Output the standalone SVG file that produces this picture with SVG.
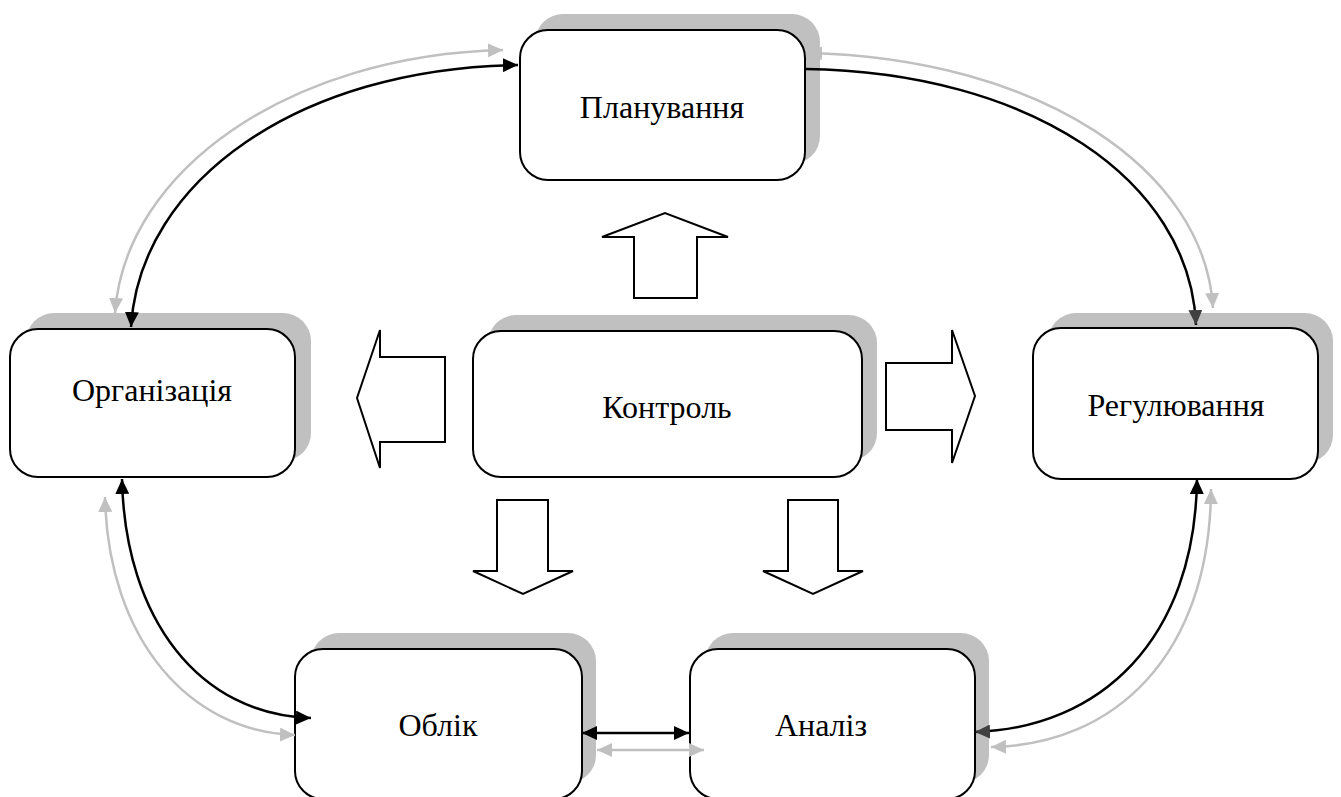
<svg xmlns="http://www.w3.org/2000/svg" width="1341" height="797" viewBox="0 0 1341 797">
  <style>
    .shadow { fill: #c0c0c0; stroke: none; }
    .box { fill: #ffffff; stroke: #000000; stroke-width: 2; }
    .label { font-family: "Liberation Serif", "Times New Roman", serif; font-size: 32px; fill: #000000; text-anchor: middle; }
    .block { fill: #ffffff; stroke: #000000; stroke-width: 2; stroke-linejoin: miter; }
    .link { fill: none; stroke: #000000; stroke-width: 2.5; }
    .link-gray { fill: none; stroke: #c0c0c0; stroke-width: 2.5; }
  </style>
  <defs>
    <marker id="headBlack" markerUnits="userSpaceOnUse" markerWidth="16" markerHeight="14" refX="15" refY="7" orient="auto-start-reverse">
      <path d="M0,0 L15,7 L0,14 z" fill="#000000"/>
    </marker>
    <marker id="headDark" markerUnits="userSpaceOnUse" markerWidth="16" markerHeight="14" refX="15" refY="7" orient="auto-start-reverse">
      <path d="M0,0 L15,7 L0,14 z" fill="#404040"/>
    </marker>
    <marker id="headGray" markerUnits="userSpaceOnUse" markerWidth="16" markerHeight="14" refX="15" refY="7" orient="auto-start-reverse">
      <path d="M0,0 L15,7 L0,14 z" fill="#c0c0c0"/>
    </marker>
  </defs>

  <rect width="1341" height="797" fill="#ffffff"/>

  <!-- nodes -->
  <g id="node-planning">
    <rect class="shadow" x="535" y="14" width="285" height="150" rx="28"/>
    <rect class="box" x="520" y="30" width="285" height="150" rx="28"/>
    <text class="label" x="662" y="118">Планування</text>
  </g>
  <g id="node-organization">
    <rect class="shadow" x="26" y="313" width="285" height="148" rx="28"/>
    <rect class="box" x="10" y="329" width="285" height="148" rx="28"/>
    <text class="label" x="152" y="401">Організація</text>
  </g>
  <g id="node-control">
    <rect class="shadow" x="488" y="315" width="389" height="146" rx="28"/>
    <rect class="box" x="473" y="331" width="389" height="146" rx="28"/>
    <text class="label" x="667" y="418">Контроль</text>
  </g>
  <g id="node-regulation">
    <rect class="shadow" x="1048" y="313" width="285" height="150" rx="28"/>
    <rect class="box" x="1033" y="328" width="285" height="151" rx="28"/>
    <text class="label" x="1176" y="416">Регулювання</text>
  </g>
  <g id="node-accounting">
    <rect class="shadow" x="311" y="633" width="285" height="150" rx="28"/>
    <rect class="box" x="295" y="649" width="287" height="150" rx="28"/>
    <text class="label" x="438" y="736">Облік</text>
  </g>
  <g id="node-analysis">
    <rect class="shadow" x="705" y="633" width="284" height="150" rx="28"/>
    <rect class="box" x="690" y="649" width="285" height="150" rx="28"/>
    <text class="label" x="821" y="736">Аналіз</text>
  </g>

  <!-- block arrows from the control node -->
  <g id="block-arrows">
    <polygon class="block" points="634,298 697,298 697,237 728,237 665,213 602,237 634,237"/>
    <polygon class="block" points="445,357 445,442 380,442 380,468 357,398 380,330 380,357"/>
    <polygon class="block" points="886,363 886,430 952,430 952,463 975,396 952,330 952,363"/>
    <polygon class="block" points="497,500 548,500 548,571 573,571 523,594 473,571 497,571"/>
    <polygon class="block" points="788,500 838,500 838,571 863,571 813,594 763,571 788,571"/>
  </g>

  <!-- connectors -->
  <g id="connectors">
    <path class="link-gray" d="M503,50 C290,55 125,170 115,313" marker-start="url(#headGray)" marker-end="url(#headGray)"/>
    <path class="link" d="M518,65 C300,68 140,180 131,327" marker-start="url(#headBlack)" marker-end="url(#headBlack)"/>

    <path class="link-gray" d="M807,53 C1040,58 1205,170 1213,308" marker-start="url(#headGray)" marker-end="url(#headGray)"/>
    <path class="link" d="M805,69 C1030,72 1190,180 1196,325" marker-end="url(#headDark)"/>

    <path class="link-gray" d="M105,497 C108,640 190,732 295,735" marker-start="url(#headGray)" marker-end="url(#headGray)"/>
    <path class="link" d="M122,479 C125,620 200,715 311,718" marker-start="url(#headBlack)" marker-end="url(#headBlack)"/>

    <path class="link-gray" d="M1211,489 C1210,655 1115,745 991,747" marker-start="url(#headGray)" marker-end="url(#headGray)"/>
    <path class="link" d="M1197,479 C1195,640 1100,728 975,732" marker-start="url(#headBlack)" marker-end="url(#headDark)"/>

    <path class="link" d="M582,733 L689,733" marker-start="url(#headBlack)" marker-end="url(#headBlack)"/>
    <path class="link-gray" d="M597,750 L704,750" marker-start="url(#headGray)" marker-end="url(#headGray)"/>
  </g>
</svg>
